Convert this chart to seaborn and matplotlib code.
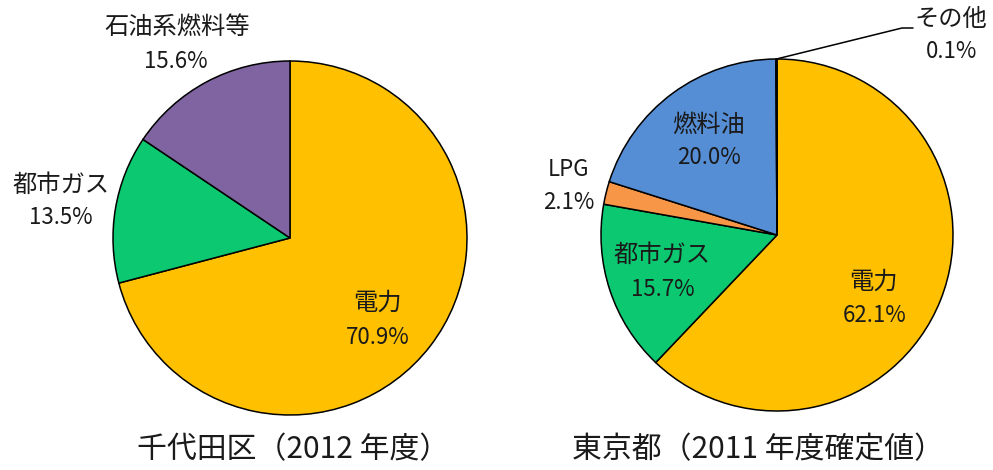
import numpy as np
import matplotlib
matplotlib.use("Agg")
import matplotlib.pyplot as plt
import seaborn as sns

# --- data ---
left_labels = ["電力", "都市ガス", "石油系燃料等"]
left_values = [70.9, 13.5, 15.6]
left_title = "千代田区（2012 年度）"

right_labels = ["電力", "都市ガス", "LPG", "燃料油", "その他"]
right_values = [62.1, 15.7, 2.1, 20.0, 0.1]
right_title = "東京都（2011 年度確定値）"

sns.set_theme(style="white")
plt.rcParams["font.family"] = ["Noto Sans CJK JP", "DejaVu Sans"]

colors = {
    "電力": "#FFC000",
    "都市ガス": "#0CC870",
    "石油系燃料等": "#8064A2",
    "LPG": "#F79646",
    "燃料油": "#558ED5",
    "その他": "#4F81BD",
}

W, H = 993, 470
fig = plt.figure(figsize=(W / 100, H / 100), dpi=100)

LIM = 1.05


def pie_axes(cx, cy, r):
    side = 2 * r * LIM
    ax = fig.add_axes([(cx - side / 2) / W, (H - cy - side / 2) / H, side / W, side / H])
    return ax


def draw_pie(ax, labels, values):
    wedges, _ = ax.pie(values, colors=[colors[l] for l in labels], startangle=90,
                       counterclock=False, radius=1,
                       wedgeprops=dict(edgecolor="black", linewidth=1.1))
    # pie() resets limits, so fix them afterwards
    ax.set_xlim(-LIM, LIM)
    ax.set_ylim(-LIM, LIM)
    ax.axis("off")
    return wedges


def px_text(x, y, s, size=16, **kw):
    fig.text(x / W, 1 - y / H, s, fontsize=size, ha="center", va="center", color="#1a1a1a", **kw)


NAME_FS = 17.5
PCT_FS = 16

# left pie
axl = pie_axes(290, 238, 177)
draw_pie(axl, left_labels, left_values)
left_pos = [(377, 303, 378, 338), (61, 185, 61, 218), (177, 27, 176, 61)]
for lab, val, (x1, y1, x2, y2) in zip(left_labels, left_values, left_pos):
    px_text(x1, y1, lab, size=NAME_FS)
    px_text(x2, y2, f"{val:.1f}%", size=PCT_FS)

# right pie
axr = pie_axes(777, 235, 176)
wr = draw_pie(axr, right_labels, right_values)
right_pos = [(873, 282, 875, 315), (662, 255, 663, 290), (569, 170, 569, 202),
             (709, 125, 709, 158), (951, 19, 952, 52)]
right_size = [NAME_FS, NAME_FS, 16, NAME_FS, NAME_FS]
for lab, val, (x1, y1, x2, y2), fs in zip(right_labels, right_values, right_pos, right_size):
    px_text(x1, y1, lab, size=fs)
    px_text(x2, y2, f"{val:.1f}%", size=PCT_FS)

# leader line for その他
w = wr[-1]
ang = np.deg2rad((w.theta1 + w.theta2) / 2)
p0 = (np.cos(ang), np.sin(ang))
elbow = ((902 - 777) / 176, (235 - 28) / 176)
end = ((913 - 777) / 176, (235 - 28) / 176)
axr.plot([p0[0], elbow[0], end[0]], [p0[1], elbow[1], end[1]], color="black", lw=1.1, clip_on=False)

# titles
px_text(293, 450, left_title, size=21.5)
px_text(758, 450, right_title, size=21.5)

fig.savefig("out.png", dpi=100, facecolor="white")
